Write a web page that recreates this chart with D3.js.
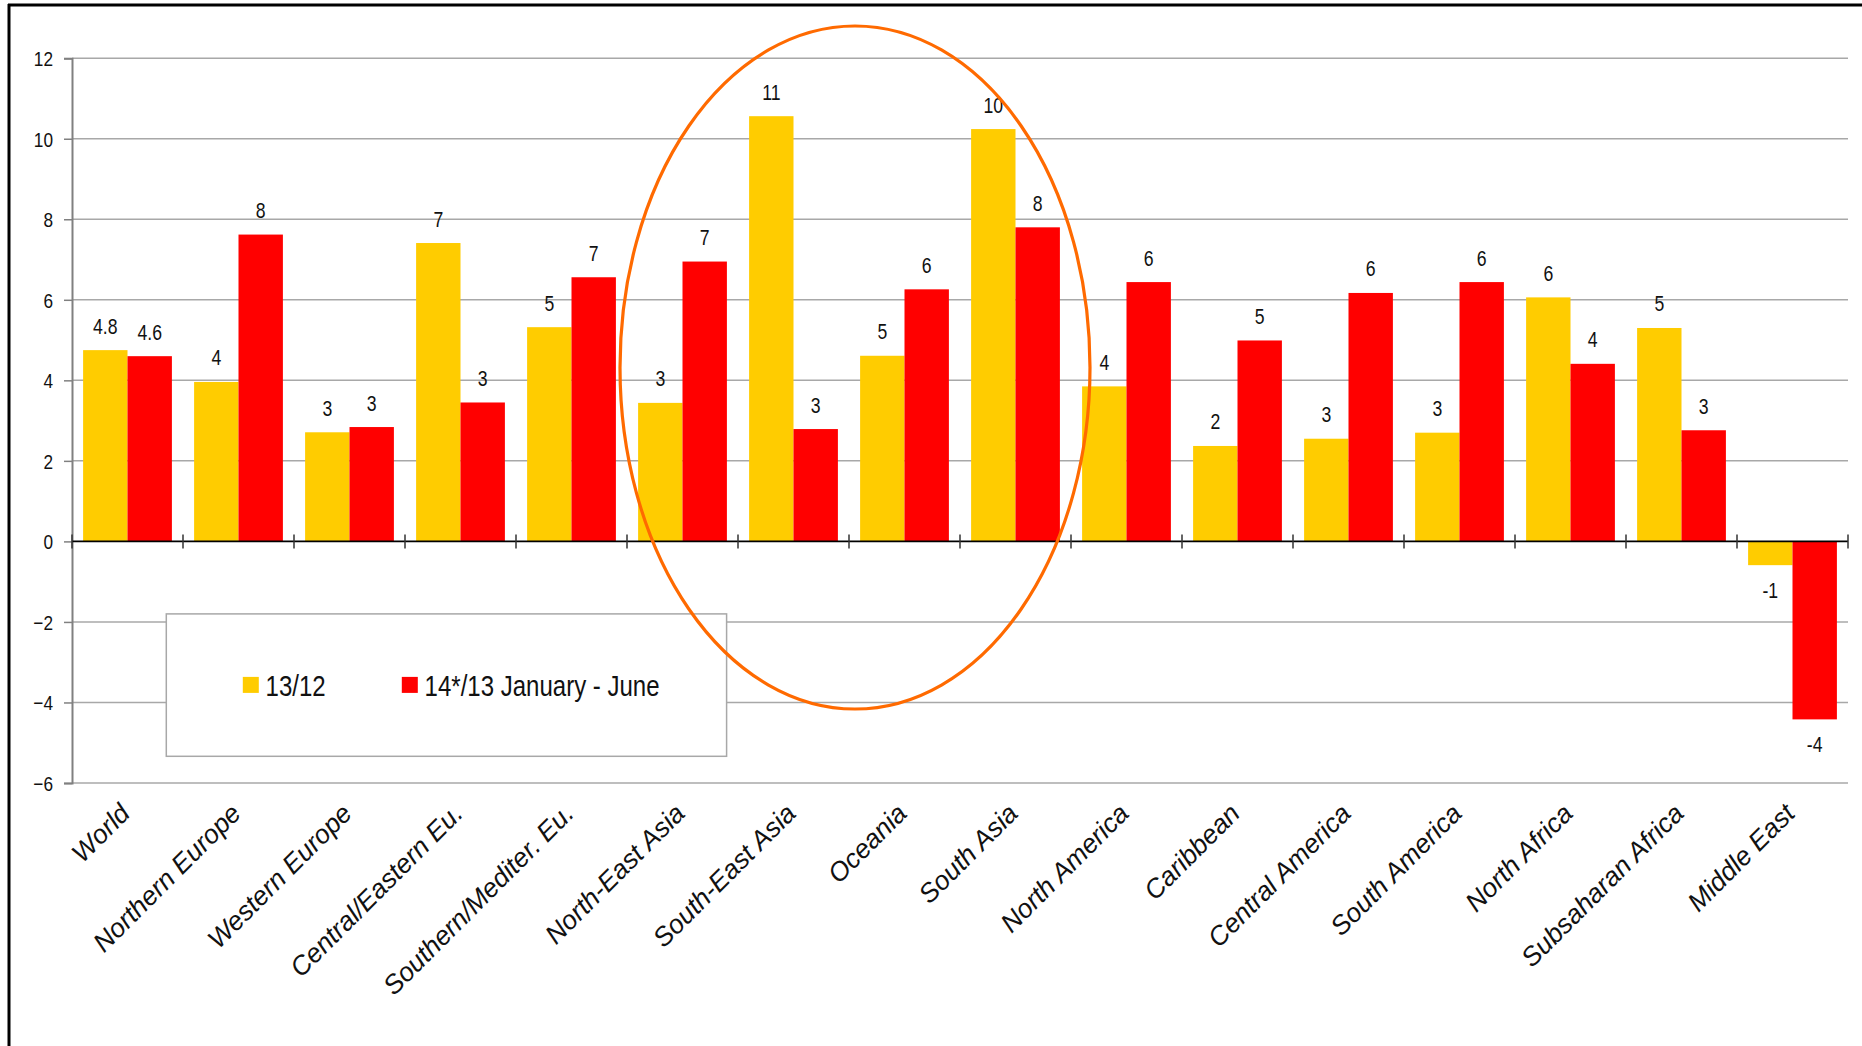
<!DOCTYPE html>
<html>
<head>
<meta charset="utf-8">
<script src="https://cdn.jsdelivr.net/npm/d3@7"></script>
<style>
  html, body { margin: 0; padding: 0; background: #fff; }
  svg { display: block; }
  text { font-family: "Liberation Sans", Arial, sans-serif; fill: #111; }
</style>
</head>
<body>
<svg id="chart" width="1862" height="1046"></svg>
<script>
const categories = ["World", "Northern Europe", "Western Europe", "Central/Eastern Eu.", "Southern/Mediter. Eu.",
  "North-East Asia", "South-East Asia", "Oceania", "South Asia", "North America", "Caribbean",
  "Central America", "South America", "North Africa", "Subsaharan Africa", "Middle East"];
const seriesNames = ["13/12", "14*/13 January - June"];
const values1312 = [4.75, 3.96, 2.71, 7.41, 5.32, 3.44, 10.56, 4.61, 10.24, 3.85, 2.37, 2.55, 2.70, 6.06, 5.30, -0.59];
const values1413 = [4.60, 7.62, 2.84, 3.45, 6.56, 6.95, 2.79, 6.26, 7.80, 6.44, 4.99, 6.17, 6.44, 4.41, 2.76, -4.42];
const labels1312 = ["4.8", "4", "3", "7", "5", "3", "11", "5", "10", "4", "2", "3", "3", "6", "5", "-1"];
const labels1413 = ["4.6", "8", "3", "3", "7", "7", "3", "6", "8", "6", "5", "6", "6", "4", "3", "-4"];
const yTicks = [-6, -4, -2, 0, 2, 4, 6, 8, 10, 12];
const seriesColors = ["#FFCC00", "#FF0000"];

const svg = d3.select("#chart");
const plotLeft = 72, plotRight = 1848, plotTop = 58.2, plotBottom = 783;
const SX = 0.82;

const x = d3.scaleBand().domain(categories).range([plotLeft, plotRight]).paddingInner(0.2).paddingOuter(0.1);
const xs = d3.scaleBand().domain([0, 1]).range([0, x.bandwidth()]);
const y = d3.scaleLinear().domain([-6, 12]).range([plotBottom, plotTop]);

// frame
svg.append("line").attr("x1", 8).attr("x2", 1862).attr("y1", 5).attr("y2", 5).attr("stroke", "#000").attr("stroke-width", 3);
svg.append("line").attr("x1", 9).attr("x2", 9).attr("y1", 4).attr("y2", 1046).attr("stroke", "#000").attr("stroke-width", 3);

// gridlines
svg.append("g").selectAll("line").data(yTicks.filter(d => d !== 0)).join("line")
  .attr("x1", plotLeft).attr("x2", plotRight)
  .attr("y1", d => y(d)).attr("y2", d => y(d))
  .attr("stroke", "#a8a8a8").attr("stroke-width", 1.5);

// y axis
const yAxis = d3.axisLeft(y).tickValues(yTicks).tickSize(8).tickPadding(11).tickFormat(d3.format("d"));
const gy = svg.append("g").attr("transform", `translate(${plotLeft},0)`).call(yAxis);
gy.select(".domain").attr("stroke", "#808080").attr("stroke-width", 2);
gy.selectAll(".tick line").attr("stroke", "#808080").attr("stroke-width", 1.5);
gy.selectAll(".tick text").each(function () {
  const t = d3.select(this);
  const xx = +t.attr("x");
  t.attr("x", null).attr("dy", "0.35em")
   .attr("transform", `translate(${xx},0) scale(${SX},1)`)
   .style("font-size", "21px").style("font-family", '"Liberation Sans", Arial, sans-serif')
   .attr("fill", "#111");
});

// legend box
const legend = svg.append("g");
legend.append("rect").attr("x", 166.3).attr("y", 613.9).attr("width", 560.3).attr("height", 142.4)
  .attr("fill", "#fff").attr("stroke", "#a8a8a8").attr("stroke-width", 1.5);
const legendItems = [{ sx: 242.8, tx: 265.6 }, { sx: 401.8, tx: 424.6 }];
legendItems.forEach((it, i) => {
  legend.append("rect").attr("x", it.sx).attr("y", 676.9).attr("width", 16).attr("height", 16).attr("fill", seriesColors[i]);
  legend.append("text").attr("transform", `translate(${it.tx},685.6) scale(${SX},1)`)
    .attr("dy", "0.35em").style("font-size", "29.3px").text(seriesNames[i]);
});

// bars
const rows = categories.map((c, i) => ({ c, v: [values1312[i], values1413[i]], l: [labels1312[i], labels1413[i]] }));
const groups = svg.append("g").selectAll("g").data(rows).join("g")
  .attr("transform", d => `translate(${x(d.c)},0)`);
groups.selectAll("rect").data(d => d.v.map((v, k) => ({ v, k }))).join("rect")
  .attr("x", d => xs(d.k)).attr("width", xs.bandwidth())
  .attr("y", d => y(Math.max(0, d.v))).attr("height", d => Math.abs(y(d.v) - y(0)))
  .attr("fill", d => seriesColors[d.k]);
groups.selectAll("text").data(d => d.v.map((v, k) => ({ v, k, l: d.l[k] }))).join("text")
  .attr("transform", d => `translate(${xs(d.k) + xs.bandwidth() / 2},${d.v >= 0 ? y(d.v) - 16.5 : y(d.v) + 33}) scale(${SX},1)`)
  .attr("text-anchor", "middle").style("font-size", "21.5px").text(d => d.l);

// x axis line at zero
svg.append("line").attr("x1", plotLeft).attr("x2", plotRight).attr("y1", y(0)).attr("y2", y(0))
  .attr("stroke", "#000").attr("stroke-width", 1.8);
const bounds = categories.map(c => x(c) - x.step() * x.paddingOuter()).concat([plotRight]);
svg.append("g").selectAll("line").data(bounds).join("line")
  .attr("x1", d => d).attr("x2", d => d).attr("y1", y(0) - 7).attr("y2", y(0) + 7)
  .attr("stroke", "#333").attr("stroke-width", 1.5);

// x labels
svg.append("g").selectAll("text").data(categories).join("text")
  .attr("transform", d => `translate(${x(d) + x.bandwidth() / 2 + 4},815) rotate(-45)`)
  .attr("text-anchor", "end").style("font-size", "26.5px").style("font-style", "italic")
  .text(d => d);

// highlight ellipse
svg.append("ellipse").attr("cx", 855).attr("cy", 367.5).attr("rx", 235).attr("ry", 341.5)
  .attr("fill", "none").attr("stroke", "#FF6A00").attr("stroke-width", 3.2);
</script>
</body>
</html>
